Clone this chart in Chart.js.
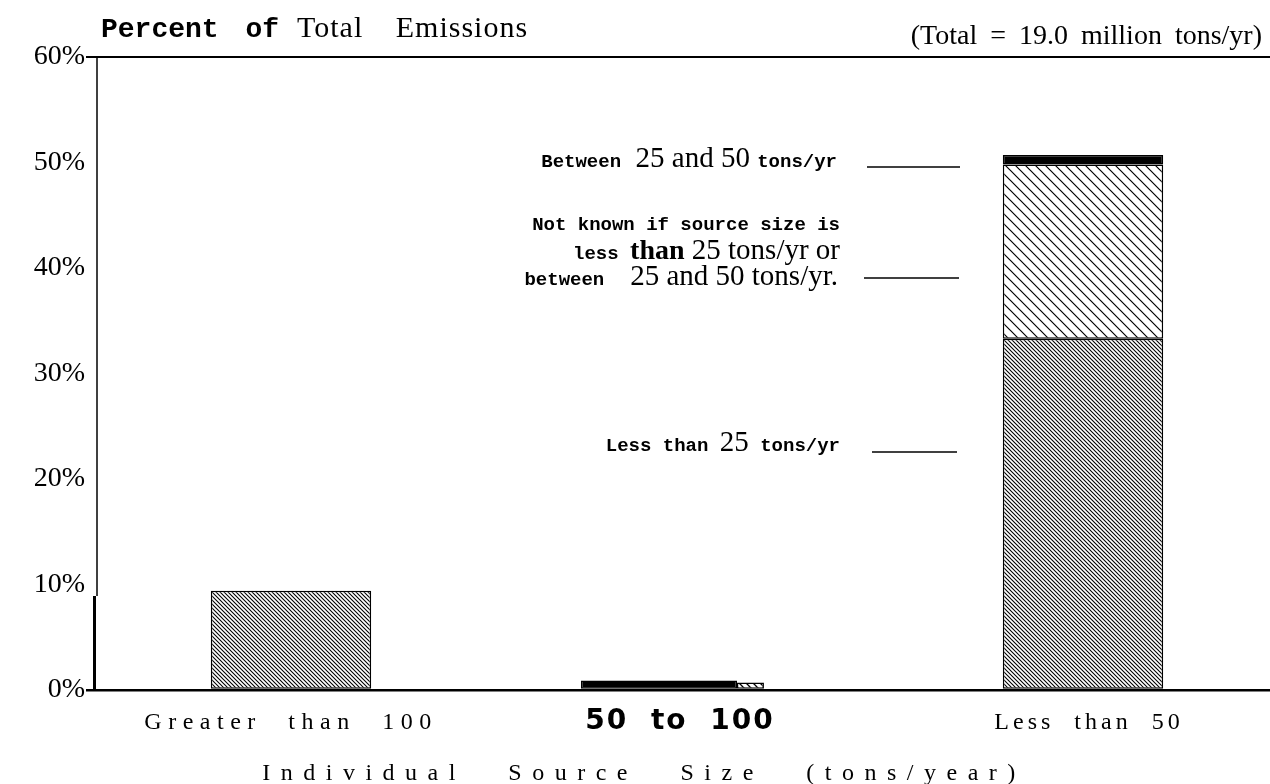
<!DOCTYPE html>
<html><head><meta charset="utf-8">
<script src="https://cdn.jsdelivr.net/npm/chart.js@4.4.1/dist/chart.umd.min.js"></script>
<style>html,body{margin:0;padding:0;background:#fff;overflow:hidden}#wrap{width:1281px;height:784px;position:relative}</style>
</head><body><div id="wrap"><canvas id="c"></canvas></div>
<script>
// ---- data ----
const categories = ['Greater than 100', '50 to 100', 'Less than 50'];
const lessThan25 = [9.4, null, 33.3];        // dense hatch
const notKnown = [null, null, 16.5];         // sparse hatch
const between25and50 = [null, null, 0.9];    // solid black top
const midSolid = [null, 0.9, null];          // 50 to 100, solid
const midHatched = [null, 0.7, null];        // 50 to 100, hatched
const yTicks = [0, 10, 20, 30, 40, 50, 60];
const titleLeft = ['Percent of', 'Total Emissions'];
const titleRight = '(Total = 19.0 million tons/yr)';
const axisTitle = 'Individual Source Size (tons/year)';

const SERIF = '"Liberation Serif", "Times New Roman", serif';
const MONO = '"Liberation Mono", "Courier New", monospace';
const SANS = '"DejaVu Sans", sans-serif';

const canvas = document.getElementById('c');
const ctx = canvas.getContext('2d');

function hatch(period, lw) {
  const c = document.createElement('canvas');
  c.width = c.height = period;
  const x = c.getContext('2d');
  x.fillStyle = '#fff'; x.fillRect(0, 0, period, period);
  x.strokeStyle = '#000'; x.lineWidth = lw;
  x.beginPath();
  for (let k = -1; k <= 1; k++) {
    x.moveTo(k * period - 1, -1);
    x.lineTo(k * period + period + 1, period + 1);
  }
  x.stroke();
  return ctx.createPattern(c, 'repeat');
}
const dense = hatch(4, 1.1);
const sparse = hatch(10, 1.2);
const small = hatch(7, 1.3);

function drawRuns(c, runs, rightX, baseline) {
  let total = 0;
  runs.forEach(r => { c.font = r.f; total += c.measureText(r.t).width; });
  let x = rightX - total;
  c.textAlign = 'left'; c.textBaseline = 'alphabetic';
  runs.forEach(r => { c.font = r.f; c.fillText(r.t, x, baseline); x += c.measureText(r.t).width; });
}

const M = 'bold 19px ' + MONO;
const S = '29px ' + SERIF;
const SB = 'bold 28px ' + SERIF;
const notes = [
  { runs: [{t:'Between', f:M}, {t:'  25 and 50 ', f:S}, {t:'tons/yr', f:M}], r: 837, b: 167 },
  { runs: [{t:'Not known if source size is', f:M}], r: 840, b: 230 },
  { runs: [{t:'less ', f:M}, {t:'than', f:SB}, {t:' 25 tons/yr or', f:S}], r: 840, b: 259 },
  { runs: [{t:'between ', f:M}, {t:'  25 and 50 tons/yr.', f:S}], r: 838, b: 285 },
  { runs: [{t:'Less than ', f:M}, {t:'25', f:S}, {t:' tons/yr', f:M}], r: 840, b: 451 }
];
const leaders = [[867, 960, 167], [864, 959, 278], [872, 957, 452]];
const xLabelStyle = [
  { font: '24px ' + SERIF, ls: '6.5px', ws: '14px', dx: 0 },
  { font: 'bold 28px ' + SANS, ls: '2px', ws: '11px', dx: -7 },
  { font: '24px ' + SERIF, ls: '4px', ws: '10px', dx: 6 }
];

const decor = {
  id: 'decor',
  afterDraw(chart) {
    const c = chart.ctx;
    c.save();
    c.fillStyle = '#000';
    // titles
    c.textBaseline = 'alphabetic'; c.textAlign = 'left';
    c.font = 'bold 28px ' + MONO;
    c.wordSpacing = '10px';
    c.fillText(titleLeft[0], 101, 37);
    const w0 = c.measureText(titleLeft[0]).width;
    c.font = '30px ' + SERIF;
    c.letterSpacing = '1px'; c.wordSpacing = '24px';
    c.fillText(titleLeft[1], 101 + w0 + 18, 37);
    c.letterSpacing = '0px'; c.wordSpacing = '6px';
    c.font = '28px ' + SERIF;
    c.textAlign = 'right';
    c.fillText(titleRight, 1262, 44);
    c.wordSpacing = '0px';
    // axis lines (as printed: thin upper part, heavier lower part)
    c.strokeStyle = '#000';
    c.lineWidth = 1.5;
    c.beginPath(); c.moveTo(97, chart.chartArea.top); c.lineTo(97, 596); c.stroke();
    c.lineWidth = 3;
    c.beginPath(); c.moveTo(94.5, 596); c.lineTo(94.5, chart.chartArea.bottom); c.stroke();
    // notes
    notes.forEach(n => drawRuns(c, n.runs, n.r, n.b));
    c.lineWidth = 1.5;
    leaders.forEach(l => { c.beginPath(); c.moveTo(l[0], l[2]); c.lineTo(l[1], l[2]); c.stroke(); });
    // category labels
    const xs = chart.scales.x;
    c.textAlign = 'center';
    categories.forEach((lab, i) => {
      const st = xLabelStyle[i];
      const cx = xs.getPixelForValue(i) + st.dx;
      c.font = st.font; c.letterSpacing = st.ls; c.wordSpacing = st.ws;
      c.fillText(lab, cx, 729);
    });
    c.font = '24px ' + SERIF; c.letterSpacing = '10.5px'; c.wordSpacing = '26px';
    c.fillText(axisTitle, 644, 780);
    c.restore();
  }
};

const common = { borderColor: '#000', borderWidth: 1.5, borderSkipped: false, skipNull: true };
new Chart(canvas, {
  type: 'bar',
  data: {
    labels: categories,
    datasets: [
      Object.assign({ label: 'Less than 25 tons/yr', data: lessThan25, backgroundColor: dense, stack: 'A', barPercentage: 0.405, categoryPercentage: 1 }, common),
      Object.assign({ label: 'Not known', data: notKnown, backgroundColor: sparse, stack: 'A', barPercentage: 0.405, categoryPercentage: 1 }, common),
      Object.assign({ label: 'Between 25 and 50 tons/yr', data: between25and50, backgroundColor: '#000', stack: 'A', barPercentage: 0.405, categoryPercentage: 1 }, common),
      Object.assign({ label: '50 to 100 (solid)', data: midSolid, backgroundColor: '#000', stack: 'A', barPercentage: 2.786, categoryPercentage: 0.283 }, common),
      Object.assign({ label: '50 to 100 (hatched)', data: midHatched, backgroundColor: small, stack: 'B', barPercentage: 0.2126, categoryPercentage: 0.641 }, common)
    ]
  },
  options: {
    responsive: true, maintainAspectRatio: false, animation: false,
    layout: { padding: { top: 57, bottom: 94, left: 0, right: 0 } },
    plugins: { legend: { display: false }, tooltip: { enabled: false }, title: { display: false } },
    scales: {
      x: { display: false, stacked: true },
      y: {
        stacked: true, min: 0, max: 60,
        afterFit(s) { s.width = 93; },
        afterBuildTicks(s) { s.ticks = yTicks.map(v => ({ value: v })); },
        ticks: { callback: v => v + '%', color: '#000', padding: 1, font: { family: SERIF, size: 28 } },
        grid: {
          drawTicks: true, tickLength: 7,
          color: c => (c.tick && (c.tick.value === 60 || c.tick.value === 0)) ? '#000' : 'rgba(0,0,0,0)',
          tickColor: c => (c.tick && (c.tick.value === 60 || c.tick.value === 0)) ? '#000' : 'rgba(0,0,0,0)',
          lineWidth: c => (c.tick && c.tick.value === 0) ? 2.5 : 2
        },
        border: { display: false }
      }
    }
  },
  plugins: [decor]
});
</script></body></html>
